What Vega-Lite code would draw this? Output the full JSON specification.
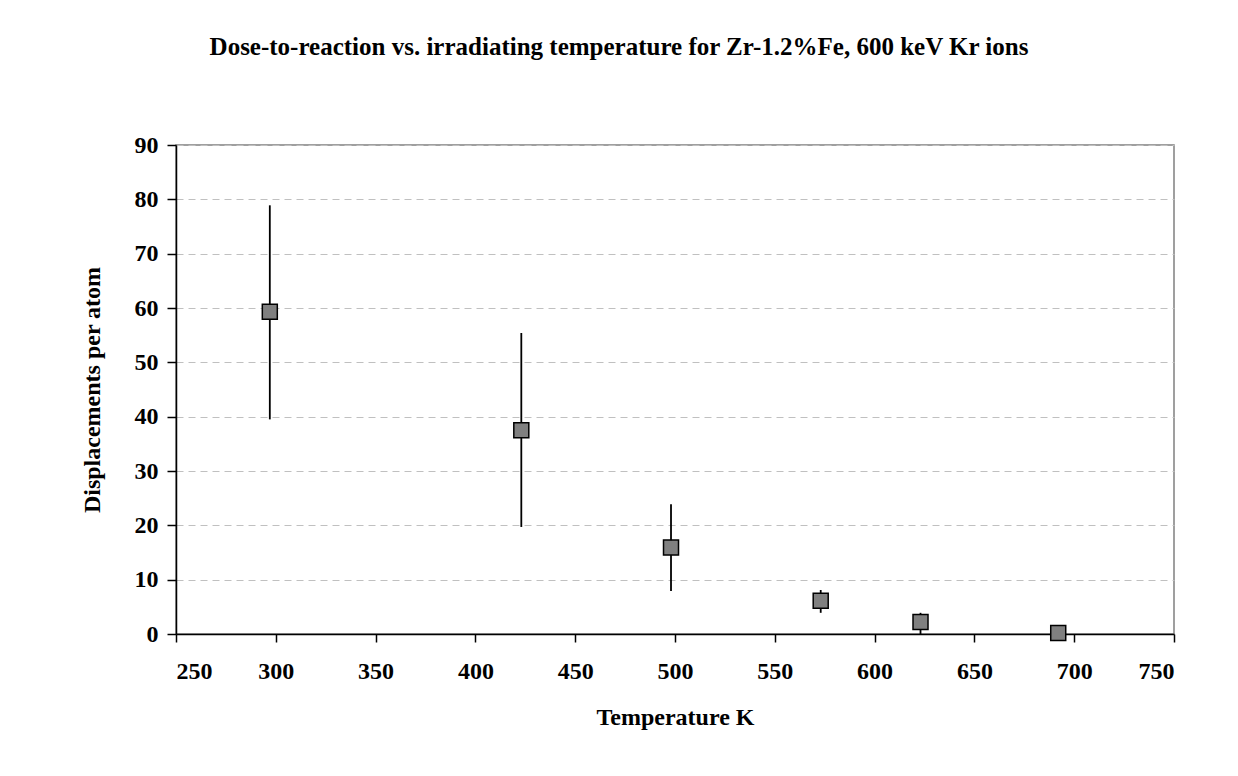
{
  "$schema": "https://vega.github.io/schema/vega-lite/v6.json",
  "width": 998,
  "height": 489,
  "autosize": {"type": "none"},
  "padding": {"left": 176, "top": 145, "right": 64, "bottom": 142},
  "background": "white",
  "title": {
    "text": "Dose-to-reaction vs. irradiating temperature for Zr-1.2%Fe, 600 keV Kr ions",
    "font": "Liberation Serif",
    "fontSize": 25,
    "fontWeight": "bold",
    "color": "black",
    "anchor": "middle",
    "dx": -56,
    "offset": 73
  },
  "data": {
    "values": [
      {"T": 297, "dpa": 59.3, "lo": 39.5, "hi": 78.9},
      {"T": 423, "dpa": 37.5, "lo": 19.7, "hi": 55.4},
      {"T": 498, "dpa": 15.9, "lo": 7.9, "hi": 23.9},
      {"T": 573, "dpa": 6.1, "lo": 3.9, "hi": 8.1},
      {"T": 623, "dpa": 2.2, "lo": 0, "hi": 3.9},
      {"T": 692, "dpa": 0.2, "lo": 0.2, "hi": 0.2}
    ]
  },
  "config": {
    "view": {"stroke": "#808080", "strokeWidth": 1.5},
    "axis": {
      "labelFont": "Liberation Serif",
      "labelFontWeight": "bold",
      "labelFontSize": 24,
      "labelColor": "black",
      "titleFont": "Liberation Serif",
      "titleFontWeight": "bold",
      "titleFontSize": 24,
      "titleColor": "black",
      "domainColor": "black",
      "domainWidth": 1.5,
      "tickColor": "black",
      "tickWidth": 1.5
    }
  },
  "layer": [
    {
      "mark": {"type": "rule", "color": "black", "strokeWidth": 1.8},
      "encoding": {
        "x": {"field": "T", "type": "quantitative"},
        "y": {"field": "lo", "type": "quantitative"},
        "y2": {"field": "hi"}
      }
    },
    {
      "mark": {"type": "point", "shape": "square", "filled": true, "size": 225, "fill": "#808080", "stroke": "black", "strokeWidth": 1.5, "opacity": 1},
      "encoding": {
        "x": {
          "field": "T",
          "type": "quantitative",
          "scale": {"domain": [250, 750], "nice": false, "zero": false},
          "axis": {
            "title": "Temperature K",
            "values": [250, 300, 350, 400, 450, 500, 550, 600, 650, 700, 750],
            "grid": false,
            "tickSize": 8,
            "labelPadding": 17,
            "titlePadding": 22
          }
        },
        "y": {
          "field": "dpa",
          "type": "quantitative",
          "scale": {"domain": [0, 90], "nice": false},
          "axis": {
            "title": "Displacements per atom",
            "values": [0, 10, 20, 30, 40, 50, 60, 70, 80, 90],
            "grid": true,
            "gridColor": "#c0c0c0",
            "gridDash": [7, 5],
            "gridWidth": 1,
            "tickSize": 9,
            "labelPadding": 9,
            "titlePadding": 30
          }
        }
      }
    }
  ]
}
